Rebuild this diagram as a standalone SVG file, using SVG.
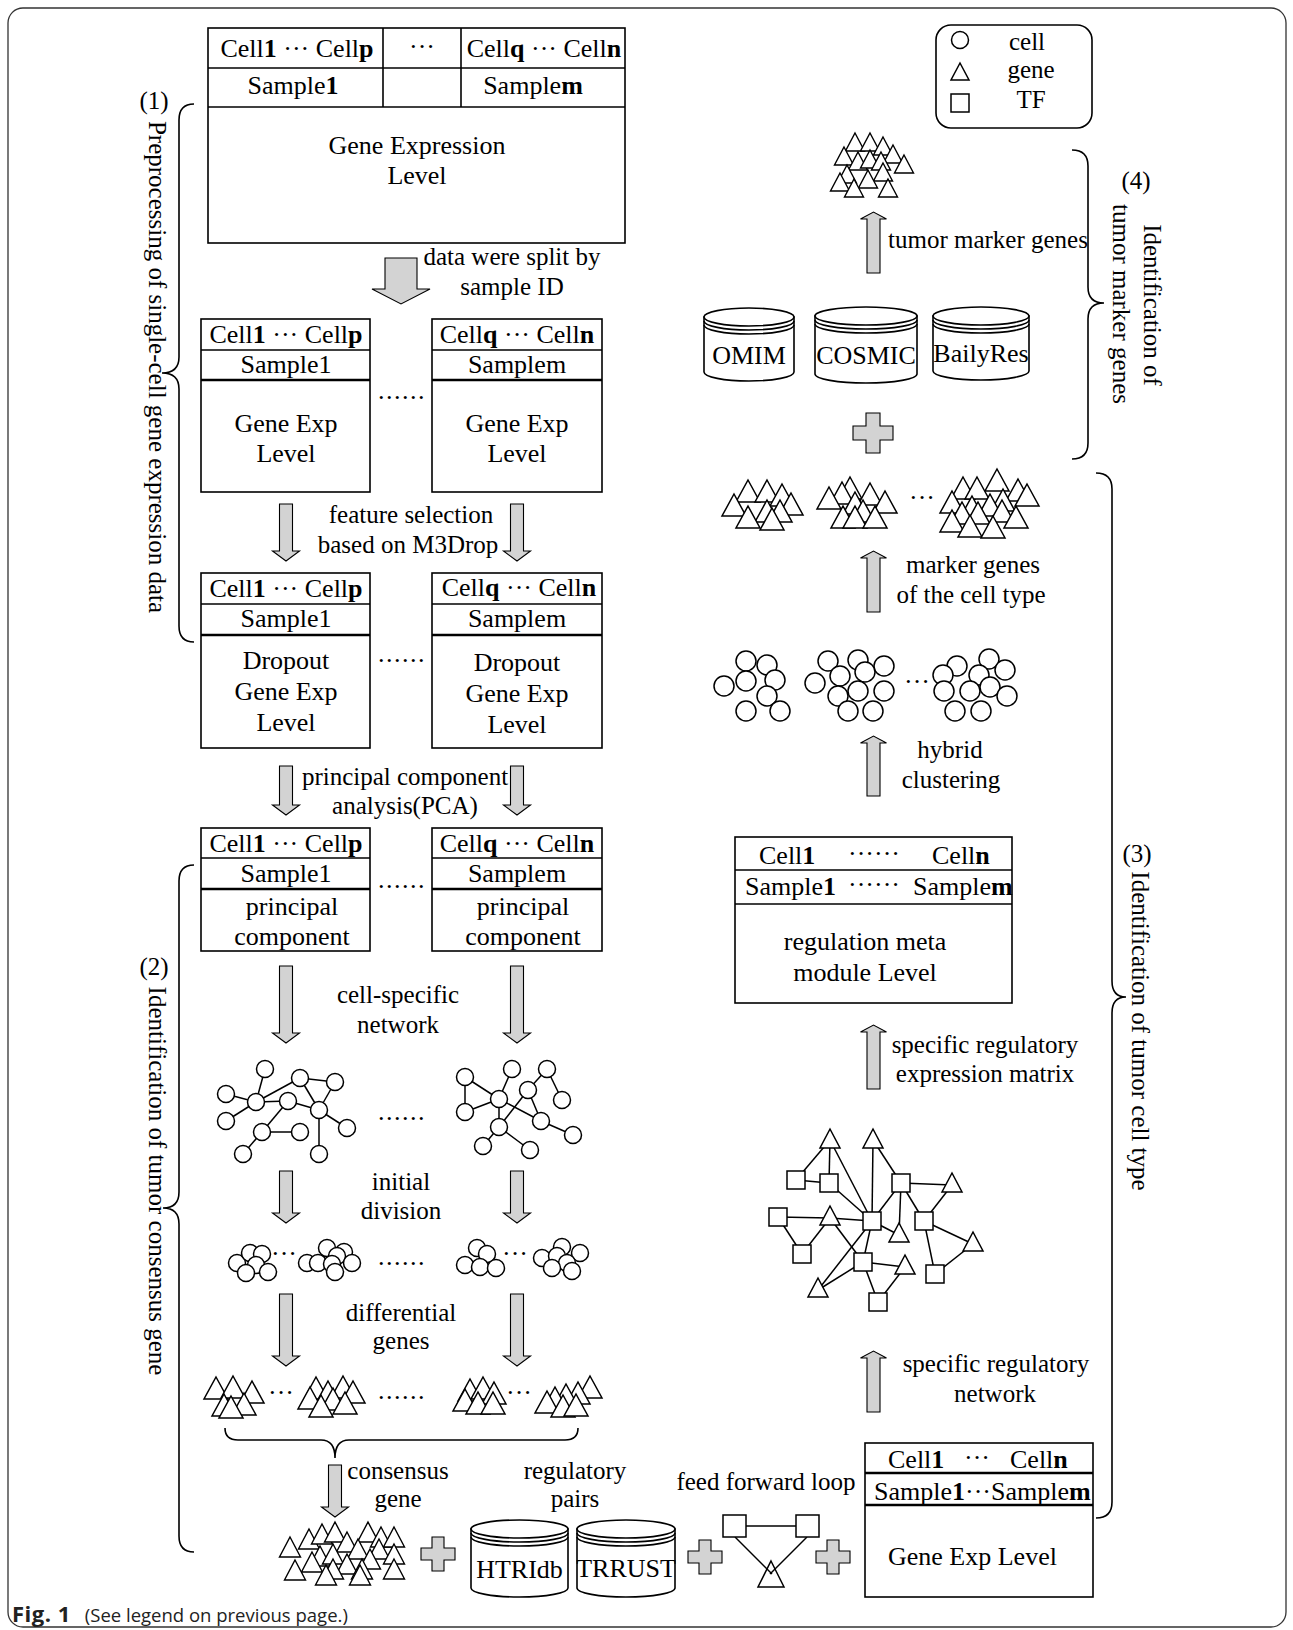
<svg xmlns="http://www.w3.org/2000/svg" width="1293" height="1630" viewBox="0 0 1293 1630">
<style>
.fr{fill:none;stroke:#333;stroke-width:1.3}
.bx{fill:#fff;stroke:#000;stroke-width:1.6}
.sep{stroke:#000;stroke-width:1.6}
.sep2{stroke:#000;stroke-width:2.4}
.ar{fill:#d3d3d3;stroke:#000;stroke-width:1.1}
.br{fill:none;stroke:#000;stroke-width:1.6}
.ln{stroke:#000;stroke-width:1.5;fill:none}
.nd{fill:#fff;stroke:#000;stroke-width:1.5}
.t{font-family:"Liberation Serif","Times New Roman",serif;font-size:26px;fill:#000}
.l{font-size:25px}
.m{text-anchor:middle}
.b{font-weight:bold}
</style>
<defs>
<polygon id="tri20" points="0,0 12,22 -12,22" fill="#fff" stroke="#000" stroke-width="1.5"/>
<polygon id="tri17" points="0,0 9.5,18 -9.5,18" fill="#fff" stroke="#000" stroke-width="1.4"/>
<polygon id="tri19" points="0,0 10.5,20 -10.5,20" fill="#fff" stroke="#000" stroke-width="1.4"/>
<circle id="c8" r="10" fill="#fff" stroke="#000" stroke-width="1.5"/>
<circle id="c7" r="8.5" fill="#fff" stroke="#000" stroke-width="1.5"/>
<rect id="sq" x="-9" y="-9" width="18" height="18" fill="#fff" stroke="#000" stroke-width="1.5"/>
</defs>
<rect x="0" y="0" width="1293" height="1630" fill="#fff"/>
<rect class="fr" x="8" y="8" width="1278" height="1619" rx="15"/>

<!-- braces and section labels -->
<g id="section1">
<path class="br" d="M194,104 Q179,104 179,120 L179,357 Q179,373 162,373 Q179,373 179,389 L179,626 Q179,642 194,642"/>
<text class="t l m" x="154" y="109">(1)</text>
<text class="t l m" transform="translate(149,367) rotate(90)">Preprocessing of single-cell gene expression data</text>
</g>
<g id="section2">
<path class="br" d="M194,865 Q179,865 179,881 L179,1192 Q179,1208 163,1208 Q179,1208 179,1224 L179,1536 Q179,1552 194,1552"/>
<text class="t l m" x="154" y="975">(2)</text>
<text class="t l m" transform="translate(149,1181) rotate(90)">Identification of tumor consensus gene</text>
</g>
<g id="section3">
<path class="br" d="M1096,473 Q1112,473 1112,489 L1112,981 Q1112,997 1126,997 Q1112,997 1112,1013 L1112,1502 Q1112,1518 1096,1518"/>
<text class="t l m" x="1137" y="862">(3)</text>
<text class="t l m" transform="translate(1132,1031) rotate(90)">Identification of tumor cell type</text>
</g>
<g id="section4">
<path class="br" d="M1072,150 Q1088,150 1088,166 L1088,287 Q1088,303 1104,303 Q1088,303 1088,319 L1088,443 Q1088,459 1072,459"/>
<text class="t l m" x="1136" y="189">(4)</text>
<text class="t l m" transform="translate(1144,305) rotate(90)">Identification of</text>
<text class="t l m" transform="translate(1113,304) rotate(90)">tumor marker genes</text>
</g>

<!-- legend -->
<g id="legend">
<rect class="bx" x="936" y="25" width="156" height="103" rx="15"/>
<circle cx="960" cy="40" r="8.5" fill="#fff" stroke="#000" stroke-width="1.5"/>
<polygon points="960,63 969,80 951,80" fill="#fff" stroke="#000" stroke-width="1.5"/>
<rect x="951" y="94" width="18" height="18" fill="#fff" stroke="#000" stroke-width="1.5"/>
<text class="t l m" x="1027" y="50">cell</text>
<text class="t l m" x="1031" y="78">gene</text>
<text class="t l m" x="1031" y="108">TF</text>
</g>

<!-- top data box -->
<g id="box-all">
<rect class="bx" x="208" y="28" width="417" height="215"/>
<line class="sep" x1="208" y1="68" x2="625" y2="68"/>
<line class="sep" x1="208" y1="107" x2="625" y2="107"/>
<line class="sep" x1="383" y1="28" x2="383" y2="107"/>
<line class="sep" x1="461" y1="28" x2="461" y2="107"/>
<text class="t m" x="297" y="57">Cell<tspan class="b">1</tspan> ··· Cell<tspan class="b">p</tspan></text>
<text class="t m" x="422" y="55">···</text>
<text class="t m" x="544" y="57">Cell<tspan class="b">q</tspan> ··· Cell<tspan class="b">n</tspan></text>
<text class="t m" x="293" y="94">Sample<tspan class="b">1</tspan></text>
<text class="t m" x="533" y="94">Sample<tspan class="b">m</tspan></text>
<text class="t m" x="417" y="154">Gene Expression</text>
<text class="t m" x="417" y="184">Level</text>
</g>

<!-- row 2 boxes -->
<g id="box-r2-left">
<rect class="bx" x="201" y="319" width="169" height="173"/>
<line class="sep" x1="201" y1="350" x2="370" y2="350"/>
<line class="sep2" x1="201" y1="380" x2="370" y2="380"/>
<text class="t m" x="286" y="343">Cell<tspan class="b">1</tspan> ··· Cell<tspan class="b">p</tspan></text>
<text class="t m" x="286" y="373">Sample1</text>
<text class="t m" x="286" y="432">Gene Exp</text>
<text class="t m" x="286" y="462">Level</text>
</g>
<g id="box-r2-right">
<rect class="bx" x="432" y="319" width="170" height="173"/>
<line class="sep" x1="432" y1="350" x2="602" y2="350"/>
<line class="sep2" x1="432" y1="380" x2="602" y2="380"/>
<text class="t m" x="517" y="343">Cell<tspan class="b">q</tspan> ··· Cell<tspan class="b">n</tspan></text>
<text class="t m" x="517" y="373">Samplem</text>
<text class="t m" x="517" y="432">Gene Exp</text>
<text class="t m" x="517" y="462">Level</text>
</g>
<text class="t m" x="402" y="399" letter-spacing="1.5">......</text>

<!-- row 3 boxes -->
<g id="box-r3-left">
<rect class="bx" x="201" y="573" width="169" height="175"/>
<line class="sep" x1="201" y1="604" x2="370" y2="604"/>
<line class="sep2" x1="201" y1="635" x2="370" y2="635"/>
<text class="t m" x="286" y="597">Cell<tspan class="b">1</tspan> ··· Cell<tspan class="b">p</tspan></text>
<text class="t m" x="286" y="627">Sample1</text>
<text class="t m" x="286" y="669">Dropout</text>
<text class="t m" x="286" y="700">Gene Exp</text>
<text class="t m" x="286" y="731">Level</text>
</g>
<g id="box-r3-right">
<rect class="bx" x="432" y="573" width="170" height="175"/>
<line class="sep" x1="432" y1="604" x2="602" y2="604"/>
<line class="sep2" x1="432" y1="635" x2="602" y2="635"/>
<text class="t m" x="519" y="596">Cell<tspan class="b">q</tspan> ··· Cell<tspan class="b">n</tspan></text>
<text class="t m" x="517" y="627">Samplem</text>
<text class="t m" x="517" y="671">Dropout</text>
<text class="t m" x="517" y="702">Gene Exp</text>
<text class="t m" x="517" y="733">Level</text>
</g>
<text class="t m" x="402" y="662" letter-spacing="1.5">......</text>

<!-- row 4 boxes -->
<g id="box-r4-left">
<rect class="bx" x="201" y="828" width="169" height="123"/>
<line class="sep" x1="201" y1="858" x2="370" y2="858"/>
<line class="sep2" x1="201" y1="889" x2="370" y2="889"/>
<text class="t m" x="286" y="852">Cell<tspan class="b">1</tspan> ··· Cell<tspan class="b">p</tspan></text>
<text class="t m" x="286" y="882">Sample1</text>
<text class="t m" x="292" y="915">principal</text>
<text class="t m" x="292" y="945">component</text>
</g>
<g id="box-r4-right">
<rect class="bx" x="432" y="828" width="170" height="123"/>
<line class="sep" x1="432" y1="858" x2="602" y2="858"/>
<line class="sep2" x1="432" y1="889" x2="602" y2="889"/>
<text class="t m" x="517" y="852">Cell<tspan class="b">q</tspan> ··· Cell<tspan class="b">n</tspan></text>
<text class="t m" x="517" y="882">Samplem</text>
<text class="t m" x="523" y="915">principal</text>
<text class="t m" x="523" y="945">component</text>
</g>
<text class="t m" x="402" y="888" letter-spacing="1.5">......</text>

<!-- cell-specific networks -->
<g id="net-left">
<g class="ln">
<line x1="265" y1="1069" x2="256" y2="1102"/>
<line x1="226" y1="1094" x2="256" y2="1102"/>
<line x1="256" y1="1102" x2="300" y2="1078"/>
<line x1="256" y1="1102" x2="288" y2="1101"/>
<line x1="300" y1="1078" x2="335" y2="1082"/>
<line x1="300" y1="1078" x2="319" y2="1110"/>
<line x1="288" y1="1101" x2="319" y2="1110"/>
<line x1="226" y1="1121" x2="256" y2="1102"/>
<line x1="288" y1="1101" x2="262" y2="1132"/>
<line x1="262" y1="1132" x2="300" y2="1132"/>
<line x1="262" y1="1132" x2="243" y2="1154"/>
<line x1="319" y1="1110" x2="347" y2="1128"/>
<line x1="319" y1="1110" x2="319" y2="1154"/>
<line x1="335" y1="1082" x2="319" y2="1110"/>
</g>
<use href="#c7" x="265" y="1069"/><use href="#c7" x="226" y="1094"/><use href="#c7" x="256" y="1102"/>
<use href="#c7" x="300" y="1078"/><use href="#c7" x="335" y="1082"/><use href="#c7" x="288" y="1101"/>
<use href="#c7" x="319" y="1110"/><use href="#c7" x="226" y="1121"/><use href="#c7" x="262" y="1132"/>
<use href="#c7" x="300" y="1132"/><use href="#c7" x="347" y="1128"/><use href="#c7" x="243" y="1154"/>
<use href="#c7" x="319" y="1154"/>
</g>
<g id="net-right">
<g class="ln">
<line x1="465" y1="1077" x2="499" y2="1099"/>
<line x1="465" y1="1077" x2="465" y2="1112"/>
<line x1="512" y1="1069" x2="499" y2="1099"/>
<line x1="547" y1="1069" x2="528" y2="1090"/>
<line x1="547" y1="1069" x2="562" y2="1100"/>
<line x1="499" y1="1099" x2="465" y2="1112"/>
<line x1="499" y1="1099" x2="499" y2="1127"/>
<line x1="499" y1="1099" x2="541" y2="1121"/>
<line x1="528" y1="1090" x2="499" y2="1127"/>
<line x1="528" y1="1090" x2="541" y2="1121"/>
<line x1="541" y1="1121" x2="573" y2="1135"/>
<line x1="499" y1="1127" x2="483" y2="1146"/>
<line x1="499" y1="1127" x2="530" y2="1150"/>
</g>
<use href="#c7" x="465" y="1077"/><use href="#c7" x="512" y="1069"/><use href="#c7" x="547" y="1069"/>
<use href="#c7" x="499" y="1099"/><use href="#c7" x="528" y="1090"/><use href="#c7" x="562" y="1100"/>
<use href="#c7" x="465" y="1112"/><use href="#c7" x="499" y="1127"/><use href="#c7" x="541" y="1121"/>
<use href="#c7" x="573" y="1135"/><use href="#c7" x="483" y="1146"/><use href="#c7" x="530" y="1150"/>
</g>
<text class="t m" x="402" y="1120" letter-spacing="1.5">......</text>

<!-- initial division clusters -->
<g id="div-clusters">
<use href="#c7" x="237" y="1263"/><use href="#c7" x="250" y="1253"/><use href="#c7" x="262" y="1254"/><use href="#c7" x="256" y="1265"/><use href="#c7" x="246" y="1273"/><use href="#c7" x="268" y="1272"/>
<text class="t m" x="284" y="1262">···</text>
<use href="#c7" x="307" y="1263"/><use href="#c7" x="318" y="1263"/><use href="#c7" x="327" y="1248"/><use href="#c7" x="344" y="1252"/><use href="#c7" x="337" y="1256"/><use href="#c7" x="332" y="1264"/><use href="#c7" x="352" y="1263"/><use href="#c7" x="335" y="1272"/>
<text class="t m" x="402" y="1265" letter-spacing="1.5">......</text>
<use href="#c7" x="477" y="1248"/><use href="#c7" x="487" y="1254"/><use href="#c7" x="465" y="1265"/><use href="#c7" x="480" y="1267"/><use href="#c7" x="496" y="1268"/>
<text class="t m" x="515" y="1262">···</text>
<use href="#c7" x="562" y="1247"/><use href="#c7" x="580" y="1253"/><use href="#c7" x="542" y="1258"/><use href="#c7" x="557" y="1256"/><use href="#c7" x="567" y="1263"/><use href="#c7" x="552" y="1268"/><use href="#c7" x="572" y="1271"/>
</g>

<!-- differential gene clusters -->
<g id="diff-genes">
<use href="#tri20" x="216" y="1377"/><use href="#tri20" x="233" y="1376"/><use href="#tri20" x="252" y="1381"/><use href="#tri20" x="224" y="1394"/><use href="#tri20" x="244" y="1393"/><use href="#tri20" x="231" y="1396"/>
<text class="t m" x="281" y="1401">···</text>
<use href="#tri20" x="316" y="1377"/><use href="#tri20" x="343" y="1376"/><use href="#tri20" x="328" y="1381"/><use href="#tri20" x="353" y="1381"/><use href="#tri20" x="310" y="1387"/><use href="#tri20" x="333" y="1388"/><use href="#tri20" x="345" y="1392"/><use href="#tri20" x="321" y="1395"/>
<text class="t m" x="402" y="1399" letter-spacing="1.5">......</text>
<use href="#tri20" x="470" y="1379"/><use href="#tri20" x="483" y="1377"/><use href="#tri20" x="494" y="1382"/><use href="#tri20" x="465" y="1389"/><use href="#tri20" x="478" y="1392"/><use href="#tri20" x="493" y="1392"/>
<text class="t m" x="519" y="1401">···</text>
<use href="#tri20" x="590" y="1376"/><use href="#tri20" x="578" y="1382"/><use href="#tri20" x="566" y="1384"/><use href="#tri20" x="555" y="1387"/><use href="#tri20" x="547" y="1391"/><use href="#tri20" x="563" y="1395"/><use href="#tri20" x="576" y="1394"/>
</g>

<!-- horizontal brace -->
<g id="merge-brace">
<path class="br" d="M225,1428 Q225,1440 238,1440 L321,1440 Q335,1440 335,1458 Q335,1440 349,1440 L565,1440 Q578,1440 578,1428"/>
</g>

<!-- consensus genes -->
<g id="consensus-genes">
<use href="#tri19" x="309" y="1529"/><use href="#tri19" x="322" y="1524"/><use href="#tri19" x="335" y="1522"/><use href="#tri19" x="368" y="1522"/><use href="#tri19" x="381" y="1527"/><use href="#tri19" x="394" y="1527"/><use href="#tri19" x="347" y="1532"/><use href="#tri19" x="290" y="1537"/>
<use href="#tri19" x="358" y="1539"/><use href="#tri19" x="379" y="1539"/><use href="#tri19" x="320" y="1546"/><use href="#tri19" x="333" y="1544"/><use href="#tri19" x="394" y="1544"/><use href="#tri19" x="370" y="1549"/>
<use href="#tri19" x="312" y="1552"/><use href="#tri19" x="347" y="1554"/><use href="#tri19" x="295" y="1560"/><use href="#tri19" x="333" y="1559"/><use href="#tri19" x="362" y="1559"/><use href="#tri19" x="394" y="1559"/><use href="#tri19" x="326" y="1565"/><use href="#tri19" x="360" y="1565"/>
</g>

<!-- pluses -->
<g id="plus-bottom1"><polygon class="ar" points="432,1537 444,1537 444,1548 455,1548 455,1560 444,1560 444,1571 432,1571 432,1560 421,1560 421,1548 432,1548"/></g>
<g id="plus-bottom2"><polygon class="ar" points="699,1540 711,1540 711,1551 722,1551 722,1563 711,1563 711,1574 699,1574 699,1563 688,1563 688,1551 699,1551"/></g>
<g id="plus-bottom3"><polygon class="ar" points="827,1540 839,1540 839,1551 850,1551 850,1563 839,1563 839,1574 827,1574 827,1563 816,1563 816,1551 827,1551"/></g>
<g id="plus-top"><polygon class="ar" points="866,413 880,413 880,426 893,426 893,440 880,440 880,453 866,453 866,440 853,440 853,426 866,426"/></g>

<!-- databases -->
<g id="db-htridb">
<path class="bx" d="M471,1529 L471,1588 A48.5,9 0 0 0 568,1588 L568,1529 Z"/>
<ellipse class="bx" cx="519.5" cy="1529" rx="48.5" ry="9"/>
<path class="br" d="M471,1533 A48.5,9 0 0 0 568,1533 M471,1537 A48.5,9 0 0 0 568,1537"/>
<text class="t m" x="519.5" y="1578">HTRIdb</text>
</g>
<g id="db-trrust">
<path class="bx" d="M577,1529 L577,1588 A49,9 0 0 0 675,1588 L675,1529 Z"/>
<ellipse class="bx" cx="626" cy="1529" rx="49" ry="9"/>
<path class="br" d="M577,1533 A49,9 0 0 0 675,1533 M577,1537 A49,9 0 0 0 675,1537"/>
<text class="t m" x="626" y="1577">TRRUST</text>
</g>
<g id="db-omim">
<path class="bx" d="M704,317 L704,372 A45,9 0 0 0 794,372 L794,317 Z"/>
<ellipse class="bx" cx="749" cy="317" rx="45" ry="9"/>
<path class="br" d="M704,321 A45,9 0 0 0 794,321 M704,325 A45,9 0 0 0 794,325"/>
<text class="t m" x="749" y="364">OMIM</text>
</g>
<g id="db-cosmic">
<path class="bx" d="M815,316 L815,374 A51,9 0 0 0 917,374 L917,316 Z"/>
<ellipse class="bx" cx="866" cy="316" rx="51" ry="9"/>
<path class="br" d="M815,320 A51,9 0 0 0 917,320 M815,324 A51,9 0 0 0 917,324"/>
<text class="t m" x="866" y="364">COSMIC</text>
</g>
<g id="db-bailyres">
<path class="bx" d="M933,316 L933,371 A48,9 0 0 0 1029,371 L1029,316 Z"/>
<ellipse class="bx" cx="981" cy="316" rx="48" ry="9"/>
<path class="br" d="M933,320 A48,9 0 0 0 1029,320 M933,324 A48,9 0 0 0 1029,324"/>
<text class="t m" x="981" y="362">BailyRes</text>
</g>

<!-- feed forward loop -->
<g id="ffl">
<polygon points="771,1561 784,1587 758,1587" fill="#fff" stroke="#000" stroke-width="1.5"/>
<line class="ln" x1="746" y1="1526" x2="796" y2="1526"/>
<line class="ln" x1="735" y1="1537" x2="772" y2="1574"/>
<line class="ln" x1="807" y1="1537" x2="770" y2="1574"/>
<rect x="723" y="1515" width="23" height="22" fill="#fff" stroke="#000" stroke-width="1.5"/>
<rect x="796" y="1515" width="23" height="22" fill="#fff" stroke="#000" stroke-width="1.5"/>
</g>

<!-- bottom right expression box -->
<g id="box-expr">
<rect class="bx" x="865" y="1443" width="228" height="154"/>
<line class="sep2" x1="865" y1="1473" x2="1093" y2="1473"/>
<line class="sep2" x1="865" y1="1505" x2="1093" y2="1505"/>
<text class="t" x="888" y="1468">Cell<tspan class="b">1</tspan></text>
<text class="t m" x="977" y="1466">···</text>
<text class="t" x="1010" y="1468">Cell<tspan class="b">n</tspan></text>
<text class="t" x="874" y="1500">Sample<tspan class="b">1</tspan>···Sample<tspan class="b">m</tspan></text>
<text class="t" x="888" y="1565">Gene Exp Level</text>
</g>

<!-- TF regulatory network -->
<g id="tf-network">
<g class="ln">
<line x1="796" y1="1180" x2="830" y2="1140"/>
<line x1="796" y1="1180" x2="829" y2="1183"/>
<line x1="829" y1="1183" x2="830" y2="1140"/>
<line x1="830" y1="1140" x2="872" y2="1221"/>
<line x1="829" y1="1183" x2="872" y2="1221"/>
<line x1="873" y1="1140" x2="872" y2="1221"/>
<line x1="873" y1="1140" x2="901" y2="1183"/>
<line x1="901" y1="1183" x2="952" y2="1185"/>
<line x1="901" y1="1183" x2="872" y2="1221"/>
<line x1="901" y1="1183" x2="899" y2="1235"/>
<line x1="901" y1="1183" x2="924" y2="1221"/>
<line x1="952" y1="1185" x2="924" y2="1221"/>
<line x1="778" y1="1217" x2="830" y2="1218"/>
<line x1="778" y1="1217" x2="802" y2="1254"/>
<line x1="830" y1="1218" x2="802" y2="1254"/>
<line x1="830" y1="1218" x2="872" y2="1221"/>
<line x1="830" y1="1218" x2="863" y2="1262"/>
<line x1="872" y1="1221" x2="899" y2="1235"/>
<line x1="872" y1="1221" x2="863" y2="1262"/>
<line x1="872" y1="1221" x2="818" y2="1290"/>
<line x1="924" y1="1221" x2="973" y2="1244"/>
<line x1="924" y1="1221" x2="935" y2="1274"/>
<line x1="973" y1="1244" x2="935" y2="1274"/>
<line x1="863" y1="1262" x2="905" y2="1267"/>
<line x1="863" y1="1262" x2="818" y2="1290"/>
<line x1="863" y1="1262" x2="878" y2="1302"/>
<line x1="905" y1="1267" x2="878" y2="1302"/>
</g>
<polygon points="830,1129 840,1148 820,1148" fill="#fff" stroke="#000" stroke-width="1.5"/>
<polygon points="873,1129 883,1148 863,1148" fill="#fff" stroke="#000" stroke-width="1.5"/>
<polygon points="952,1173 962,1192 942,1192" fill="#fff" stroke="#000" stroke-width="1.5"/>
<polygon points="830,1206 840,1225 820,1225" fill="#fff" stroke="#000" stroke-width="1.5"/>
<polygon points="899,1223 909,1242 889,1242" fill="#fff" stroke="#000" stroke-width="1.5"/>
<polygon points="973,1232 983,1251 963,1251" fill="#fff" stroke="#000" stroke-width="1.5"/>
<polygon points="905,1255 915,1274 895,1274" fill="#fff" stroke="#000" stroke-width="1.5"/>
<polygon points="818,1278 828,1297 808,1297" fill="#fff" stroke="#000" stroke-width="1.5"/>
<use href="#sq" x="796" y="1180"/><use href="#sq" x="829" y="1183"/><use href="#sq" x="901" y="1183"/>
<use href="#sq" x="778" y="1217"/><use href="#sq" x="872" y="1221"/><use href="#sq" x="924" y="1221"/>
<use href="#sq" x="802" y="1254"/><use href="#sq" x="863" y="1262"/><use href="#sq" x="935" y="1274"/>
<use href="#sq" x="878" y="1302"/>
</g>

<!-- regulation meta module box -->
<g id="box-module">
<rect class="bx" x="735" y="837" width="277" height="166"/>
<line class="sep" x1="735" y1="870" x2="1012" y2="870"/>
<line class="sep" x1="735" y1="904" x2="1012" y2="904"/>
<text class="t" x="759" y="864">Cell<tspan class="b">1</tspan></text>
<text class="t m" x="874" y="862">······</text>
<text class="t" x="932" y="864">Cell<tspan class="b">n</tspan></text>
<text class="t" x="745" y="895">Sample<tspan class="b">1</tspan></text>
<text class="t m" x="874" y="893">······</text>
<text class="t" x="913" y="895">Sample<tspan class="b">m</tspan></text>
<text class="t m" x="865" y="950">regulation meta</text>
<text class="t m" x="865" y="981">module Level</text>
</g>

<!-- hybrid clusters -->
<g id="cell-clusters">
<use href="#c8" x="746" y="661"/><use href="#c8" x="767" y="665"/><use href="#c8" x="724" y="686"/><use href="#c8" x="746" y="681"/><use href="#c8" x="775" y="680"/><use href="#c8" x="767" y="696"/><use href="#c8" x="746" y="711"/><use href="#c8" x="780" y="711"/>
<use href="#c8" x="828" y="661"/><use href="#c8" x="858" y="660"/><use href="#c8" x="884" y="666"/><use href="#c8" x="815" y="683"/><use href="#c8" x="840" y="676"/><use href="#c8" x="865" y="672"/><use href="#c8" x="838" y="696"/><use href="#c8" x="858" y="691"/><use href="#c8" x="884" y="691"/><use href="#c8" x="848" y="711"/><use href="#c8" x="873" y="711"/>
<text class="t m" x="917" y="690">···</text>
<use href="#c8" x="957" y="666"/><use href="#c8" x="989" y="659"/><use href="#c8" x="1005" y="670"/><use href="#c8" x="943" y="675"/><use href="#c8" x="979" y="675"/><use href="#c8" x="944" y="691"/><use href="#c8" x="970" y="691"/><use href="#c8" x="990" y="687"/><use href="#c8" x="1007" y="696"/><use href="#c8" x="955" y="711"/><use href="#c8" x="981" y="711"/>
</g>

<!-- marker gene clusters -->
<g id="marker-clusters">
<use href="#tri20" x="748" y="480"/><use href="#tri20" x="767" y="480"/><use href="#tri20" x="782" y="484"/><use href="#tri20" x="734" y="494"/><use href="#tri20" x="791" y="493"/><use href="#tri20" x="767" y="500"/><use href="#tri20" x="780" y="500"/><use href="#tri20" x="748" y="506"/><use href="#tri20" x="772" y="508"/>
<use href="#tri20" x="850" y="477"/><use href="#tri20" x="842" y="482"/><use href="#tri20" x="829" y="487"/><use href="#tri20" x="870" y="483"/><use href="#tri20" x="885" y="491"/><use href="#tri20" x="855" y="492"/><use href="#tri20" x="863" y="500"/><use href="#tri20" x="843" y="506"/><use href="#tri20" x="855" y="506"/><use href="#tri20" x="875" y="506"/>
<text class="t m" x="922" y="506">···</text>
<use href="#tri20" x="997" y="469"/><use href="#tri20" x="963" y="477"/><use href="#tri20" x="977" y="477"/><use href="#tri20" x="1018" y="479"/><use href="#tri20" x="1027" y="484"/><use href="#tri20" x="952" y="491"/><use href="#tri20" x="1003" y="489"/><use href="#tri20" x="990" y="494"/><use href="#tri20" x="972" y="496"/><use href="#tri20" x="962" y="502"/><use href="#tri20" x="978" y="502"/><use href="#tri20" x="1002" y="500"/><use href="#tri20" x="1016" y="506"/><use href="#tri20" x="952" y="510"/><use href="#tri20" x="970" y="515"/><use href="#tri20" x="993" y="516"/>
</g>

<!-- tumor marker genes -->
<g id="tumor-markers">
<use href="#tri17" x="855" y="133"/><use href="#tri17" x="870" y="133"/><use href="#tri17" x="883" y="137"/><use href="#tri17" x="844" y="147"/><use href="#tri17" x="893" y="145"/><use href="#tri17" x="858" y="152"/><use href="#tri17" x="870" y="150"/><use href="#tri17" x="881" y="152"/><use href="#tri17" x="904" y="155"/><use href="#tri17" x="847" y="165"/><use href="#tri17" x="883" y="163"/><use href="#tri17" x="868" y="170"/><use href="#tri17" x="840" y="173"/><use href="#tri17" x="854" y="179"/><use href="#tri17" x="888" y="179"/>
</g>

<!-- connectors (block arrows) -->
<g id="connectors">
<polygon class="ar" points="385,258 417,258 417,289 430,289 401,304 372,289 385,289"/>
<polygon class="ar" points="279.5,504 292.5,504 292.5,551 299.5,551 286,561 272.5,551 279.5,551"/>
<polygon class="ar" points="510.5,504 523.5,504 523.5,551 530.5,551 517,561 503.5,551 510.5,551"/>
<polygon class="ar" points="279.5,766 292.5,766 292.5,805 299.5,805 286,815 272.5,805 279.5,805"/>
<polygon class="ar" points="510.5,766 523.5,766 523.5,805 530.5,805 517,815 503.5,805 510.5,805"/>
<polygon class="ar" points="279.5,966 292.5,966 292.5,1033 299.5,1033 286,1043 272.5,1033 279.5,1033"/>
<polygon class="ar" points="510.5,966 523.5,966 523.5,1033 530.5,1033 517,1043 503.5,1033 510.5,1033"/>
<polygon class="ar" points="279.5,1171 292.5,1171 292.5,1213 299.5,1213 286,1223 272.5,1213 279.5,1213"/>
<polygon class="ar" points="510.5,1171 523.5,1171 523.5,1213 530.5,1213 517,1223 503.5,1213 510.5,1213"/>
<polygon class="ar" points="279.5,1294 292.5,1294 292.5,1356 299.5,1356 286,1366 272.5,1356 279.5,1356"/>
<polygon class="ar" points="510.5,1294 523.5,1294 523.5,1356 530.5,1356 517,1366 503.5,1356 510.5,1356"/>
<polygon class="ar" points="328.5,1465 341.5,1465 341.5,1507 348.5,1507 335,1517 321.5,1507 328.5,1507"/>
<polygon class="ar" points="867,273 880,273 880,219 886.5,219 873.5,212 860.5,219 867,219"/>
<polygon class="ar" points="867,612 880,612 880,558 886.5,558 873.5,551 860.5,558 867,558"/>
<polygon class="ar" points="867,796 880,796 880,743 886.5,743 873.5,736 860.5,743 867,743"/>
<polygon class="ar" points="867,1089 880,1089 880,1032 886.5,1032 873.5,1025 860.5,1032 867,1032"/>
<polygon class="ar" points="867,1412 880,1412 880,1358 886.5,1358 873.5,1351 860.5,1358 867,1358"/>
</g>

<!-- connector labels -->
<g id="labels">
<text class="t l m" x="512" y="265">data were split by</text>
<text class="t l m" x="512" y="295">sample ID</text>
<text class="t l m" x="411" y="523">feature selection</text>
<text class="t l m" x="408" y="553">based on M3Drop</text>
<text class="t l m" x="405" y="785">principal component</text>
<text class="t l m" x="405" y="814">analysis(PCA)</text>
<text class="t l m" x="398" y="1003">cell-specific</text>
<text class="t l m" x="398" y="1033">network</text>
<text class="t l m" x="401" y="1190">initial</text>
<text class="t l m" x="401" y="1219">division</text>
<text class="t l m" x="401" y="1321">differential</text>
<text class="t l m" x="401" y="1349">genes</text>
<text class="t l m" x="398" y="1479">consensus</text>
<text class="t l m" x="398" y="1507">gene</text>
<text class="t l m" x="575" y="1479">regulatory</text>
<text class="t l m" x="575" y="1507">pairs</text>
<text class="t l m" x="766" y="1490">feed forward loop</text>
<text class="t l" x="888" y="248">tumor marker genes</text>
<text class="t l m" x="973" y="573">marker genes</text>
<text class="t l m" x="971" y="603">of the cell type</text>
<text class="t l m" x="950" y="758">hybrid</text>
<text class="t l m" x="951" y="788">clustering</text>
<text class="t l m" x="985" y="1053">specific regulatory</text>
<text class="t l m" x="985" y="1082">expression matrix</text>
<text class="t l m" x="996" y="1372">specific regulatory</text>
<text class="t l m" x="995" y="1402">network</text>
</g>

<text x="12" y="1622" font-family="'Open Sans','Liberation Sans',sans-serif" font-size="18.5" fill="#222"><tspan font-weight="bold" font-size="22" letter-spacing="0.5">Fig. 1</tspan><tspan dx="14">(See legend on previous page.)</tspan></text>
</svg>
